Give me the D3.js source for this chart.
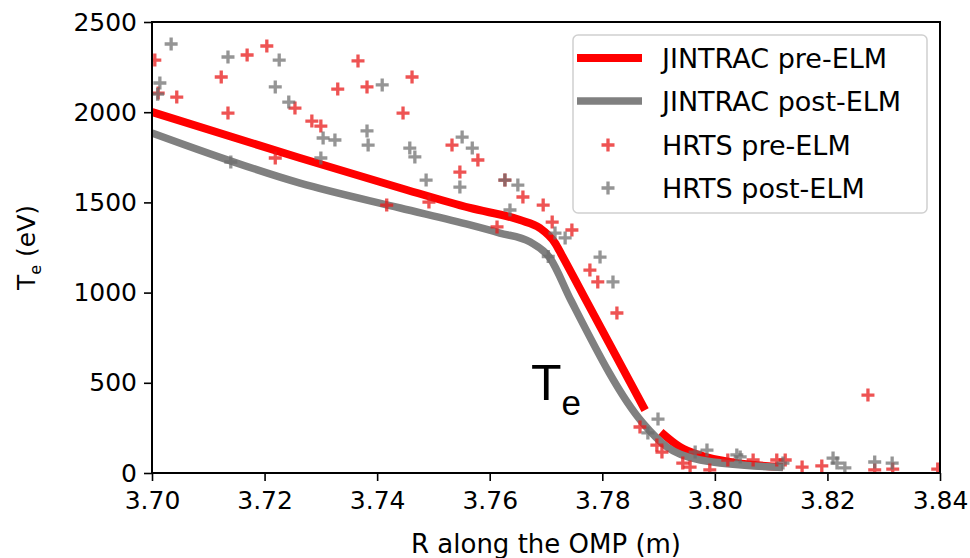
<!DOCTYPE html>
<html>
<head>
<meta charset="utf-8">
<script src="https://cdn.jsdelivr.net/npm/d3@7"></script>
<style>
  html, body { margin: 0; padding: 0; background: #fff; }
  svg { display: block; }
  text { font-family: "DejaVu Sans", sans-serif; fill: #000; }
</style>
</head>
<body>
<svg id="chart" width="970" height="558"></svg>
<script>
// Electron temperature profiles along the outer midplane radius

// JINTRAC simulated profile, pre-ELM (drawn in two pieces: gap near the separatrix)
const jintracPreR1 = [3.700, 3.7263, 3.7441, 3.7565, 3.7654, 3.7689, 3.7716, 3.7728, 3.7766, 3.7876];
const jintracPreT1 = [2001, 1746, 1580, 1469, 1402, 1358, 1275, 1208, 987, 349];
const jintracPreR2 = [3.7904, 3.7938, 3.7974, 3.8032, 3.8121];
const jintracPreT2 = [227, 144, 98, 58, 34];

// JINTRAC simulated profile, post-ELM
const jintracPostR = [3.700, 3.7263, 3.7441, 3.7565, 3.7618, 3.7672, 3.7707, 3.7744, 3.7872, 3.7915, 3.7974, 3.8121];
const jintracPostT = [1885, 1607, 1469, 1375, 1330, 1280, 1192, 959, 277, 144, 72, 30];

// HRTS measurements, pre-ELM
const hrtsPreR = [3.7005, 3.7011, 3.7044, 3.7123, 3.7135, 3.7169, 3.7204, 3.7219, 3.7254, 3.7284,
  3.7300, 3.7330, 3.7366, 3.7382, 3.7417, 3.7446, 3.7462, 3.7492, 3.7533, 3.7547,
  3.7579, 3.7613, 3.7627, 3.7659, 3.7695, 3.7711, 3.7746, 3.7778, 3.7792, 3.7826,
  3.7867, 3.7897, 3.7906, 3.7943, 3.7956, 3.7991, 3.8023, 3.8068, 3.8110, 3.8125,
  3.8155, 3.8190, 3.8272, 3.8284, 3.8316, 3.8396];
const hrtsPreT = [2289, 2106, 2084, 2195, 1995, 2317, 2367, 1746, 2023, 1951,
  1923, 2128, 2284, 2140, 1485, 1995, 2195, 1502, 1818, 1668,
  1735, 1364, 1624, 1530, 1485, 1391, 1347, 1125, 1059, 887,
  255, 155, 116, 55, 33, 17, 72, 72, 72, 72,
  33, 39, 432, 17, 22, 22];

// HRTS measurements, post-ELM
const hrtsPostR = [3.7010, 3.7014, 3.7034, 3.7135, 3.7140, 3.7219, 3.7226, 3.7243, 3.7300, 3.7304,
  3.7325, 3.7382, 3.7384, 3.7409, 3.7458, 3.7467, 3.7487, 3.7547, 3.7551, 3.7569,
  3.7627, 3.7636, 3.7650, 3.7704, 3.7716, 3.7734, 3.7796, 3.7819, 3.7881, 3.7899,
  3.7965, 3.7986, 3.8039, 3.8045, 3.8121, 3.8210, 3.8217, 3.8231, 3.8284, 3.8315];
const hrtsPostT = [2100, 2162, 2378, 2306, 1724, 2140, 2289, 2056, 1746, 1857,
  1846, 1896, 1818, 2151, 1801, 1752, 1624, 1585, 1862, 1801,
  1624, 1458, 1596, 1200, 1330, 1303, 1197, 1059, 222, 299,
  116, 127, 100, 89, 55, 83, 55, 28, 61, 55];

const xTicks = [3.70, 3.72, 3.74, 3.76, 3.78, 3.80, 3.82, 3.84];
const yTicks = [0, 500, 1000, 1500, 2000, 2500];

const legendLabels = ["JINTRAC pre-ELM", "JINTRAC post-ELM", "HRTS pre-ELM", "HRTS post-ELM"];

const zip = (xs, ys) => xs.map((v, i) => [v, ys[i]]);

const svg = d3.select("#chart");
const plotLeft = 152, plotRight = 940, plotTop = 22, plotBottom = 473;

const x = d3.scaleLinear().domain([3.70, 3.84]).range([plotLeft, plotRight]);
const y = d3.scaleLinear().domain([0, 2500]).range([plotBottom, plotTop]);

svg.append("clipPath").attr("id", "plotClip")
  .append("rect").attr("x", plotLeft).attr("y", plotTop)
  .attr("width", plotRight - plotLeft).attr("height", plotBottom - plotTop);

const plot = svg.append("g").attr("clip-path", "url(#plotClip)");

const line = d3.line().x(d => x(d[0])).y(d => y(d[1])).curve(d3.curveMonotoneX);

const RED = "#ff0000", GREY = "#808080";

// model curves
[zip(jintracPreR1, jintracPreT1), zip(jintracPreR2, jintracPreT2)].forEach(seg => {
  plot.append("path").attr("d", line(seg))
    .attr("fill", "none").attr("stroke", RED).attr("stroke-width", 8);
});
plot.append("path").attr("d", line(zip(jintracPostR, jintracPostT)))
  .attr("fill", "none").attr("stroke", GREY).attr("stroke-width", 7.5);

// '+' markers
const plus = "M-6.5,0H6.5M0,-6.5V6.5";
function markers(data, color, opacity) {
  plot.append("g").selectAll("path").data(data).join("path")
    .attr("d", plus)
    .attr("transform", d => `translate(${x(d[0])},${y(d[1])})`)
    .attr("fill", "none").attr("stroke", color)
    .attr("stroke-width", 3.3).attr("stroke-opacity", opacity);
}
markers(zip(hrtsPreR, hrtsPreT), "#e81a1a", 0.75);
markers(zip(hrtsPostR, hrtsPostT), "#6c6c6c", 0.72);

// axes
const xAxis = d3.axisBottom(x).tickValues(xTicks).tickFormat(d3.format(".2f"))
  .tickSize(8).tickPadding(9);
const yAxis = d3.axisLeft(y).tickValues(yTicks).tickFormat(d3.format("d"))
  .tickSize(8).tickPadding(7);

const gx = svg.append("g").attr("transform", `translate(0,${plotBottom})`).call(xAxis);
const gy = svg.append("g").attr("transform", `translate(${plotLeft},0)`).call(yAxis);
[gx, gy].forEach(g => {
  g.select(".domain").remove();
  g.selectAll(".tick line").attr("stroke", "#000").attr("stroke-width", 1.6);
  g.selectAll(".tick text").attr("font-size", 25).attr("fill", "#000")
    .attr("font-family", "DejaVu Sans, sans-serif");
});
gx.selectAll(".tick text").attr("dy", "0.75em");

// frame
svg.append("rect").attr("x", plotLeft).attr("y", plotTop)
  .attr("width", plotRight - plotLeft).attr("height", plotBottom - plotTop)
  .attr("fill", "none").attr("stroke", "#000").attr("stroke-width", 2);

// axis titles
svg.append("text").attr("x", (plotLeft + plotRight) / 2).attr("y", 553)
  .attr("text-anchor", "middle").attr("font-size", 26)
  .text("R along the OMP (m)");

const yt = svg.append("text")
  .attr("transform", `translate(35,${(plotTop + plotBottom) / 2}) rotate(-90)`)
  .attr("text-anchor", "middle").attr("font-size", 25);
yt.append("tspan").text("T");
yt.append("tspan").attr("font-size", 16).attr("dy", 6).text("e");
yt.append("tspan").attr("dy", -6).text(" (eV)");

// in-plot annotation
const ann = svg.append("text").attr("x", 531).attr("y", 400)
  .style("font-family", "'Liberation Sans', Arial, sans-serif");
ann.append("tspan").attr("font-size", 50).text("T");
ann.append("tspan").attr("font-size", 35).attr("dy", 15).attr("dx", 0).text("e");

// legend
const lg = svg.append("g");
lg.append("rect").attr("x", 573).attr("y", 35).attr("width", 354).attr("height", 178)
  .attr("rx", 5).attr("fill", "#fff").attr("fill-opacity", 0.85)
  .attr("stroke", "#d0d0d0").attr("stroke-width", 1.5);
const rowY = [58, 101, 145, 188];
[RED, GREY].forEach((c, i) => {
  lg.append("line").attr("x1", 577).attr("x2", 642).attr("y1", rowY[i]).attr("y2", rowY[i])
    .attr("stroke", c).attr("stroke-width", i === 0 ? 8 : 7.5);
});
[["#e81a1a", 0.75], ["#6c6c6c", 0.72]].forEach(([c, o], i) => {
  lg.append("path").attr("d", plus)
    .attr("transform", `translate(608,${rowY[i + 2]})`)
    .attr("fill", "none").attr("stroke", c).attr("stroke-width", 3.3).attr("stroke-opacity", o);
});
legendLabels.forEach((t, i) => {
  lg.append("text").attr("x", 662).attr("y", rowY[i]).attr("dy", "0.36em")
    .attr("font-size", 27).text(t);
});
</script>
</body>
</html>
